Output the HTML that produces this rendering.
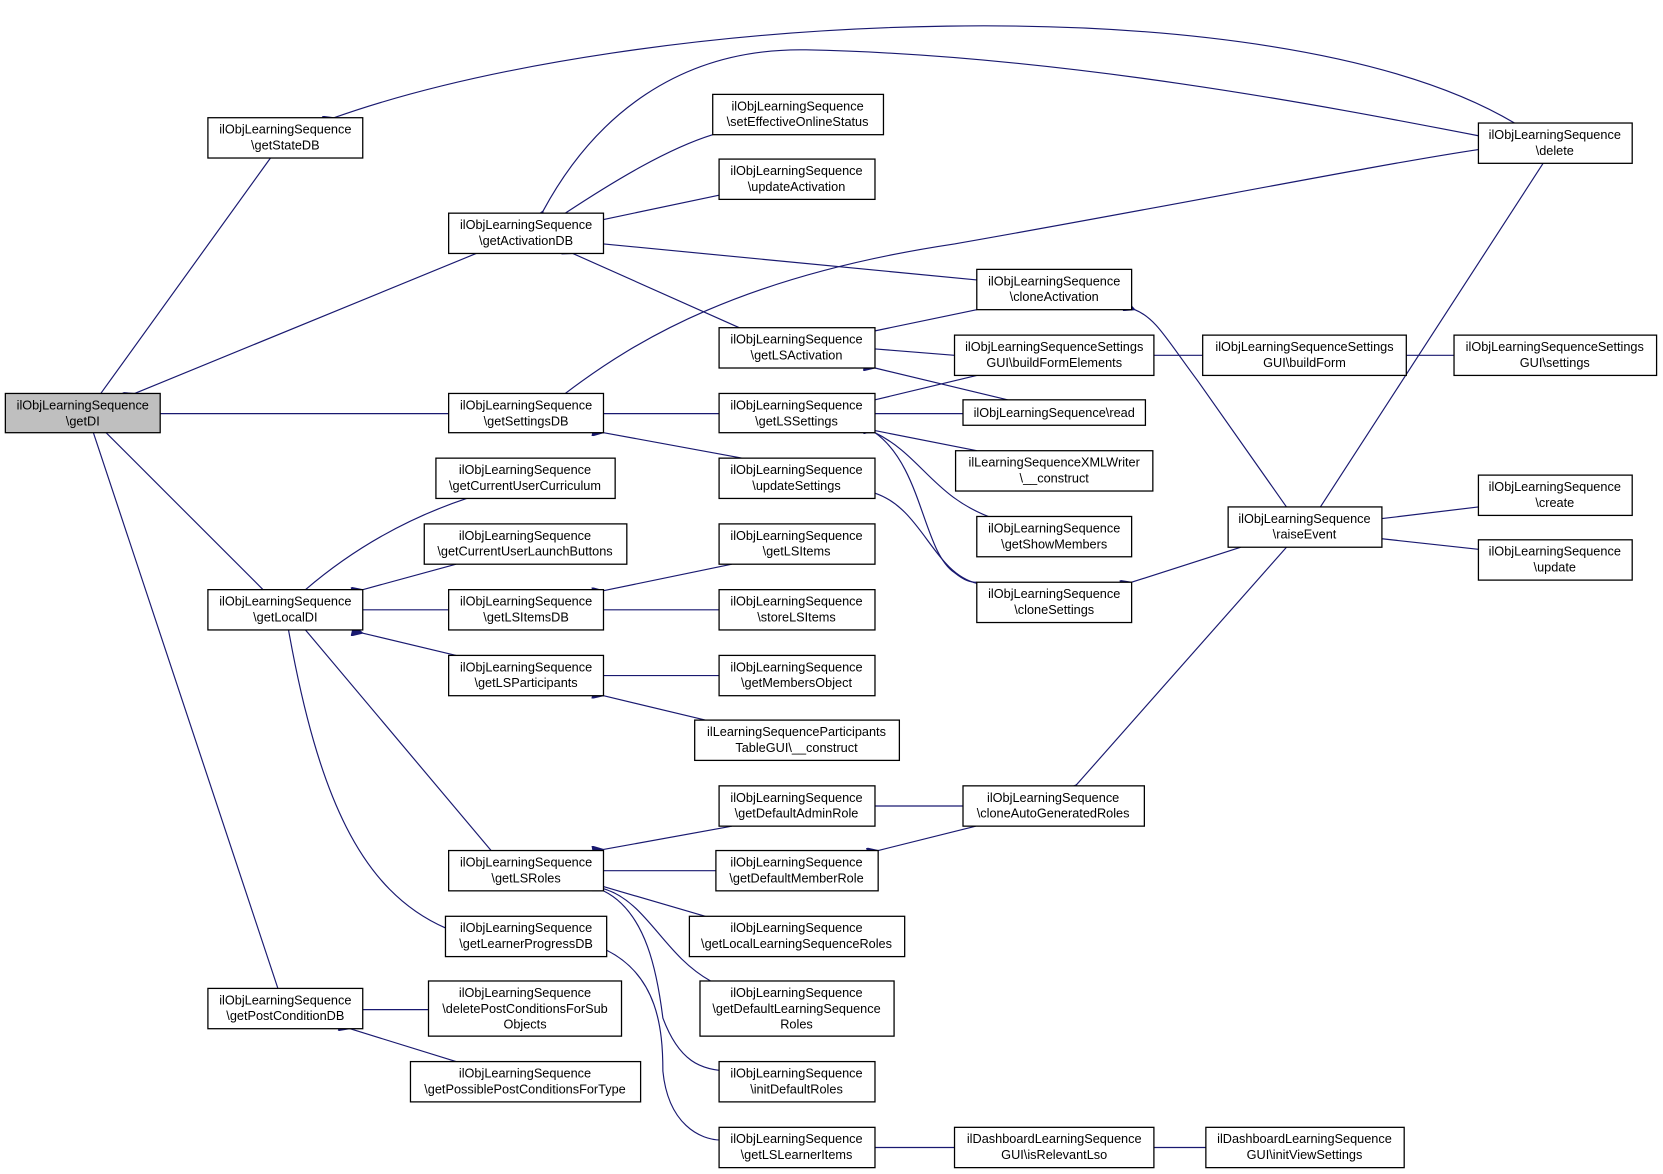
<!DOCTYPE html>
<html><head><meta charset="utf-8"><style>
html,body{margin:0;padding:0;background:#fff;width:1663px;height:1174px;overflow:hidden}
text{font-family:"Liberation Sans",sans-serif;font-size:12px;fill:#000}
.e{fill:none;stroke:#191970;stroke-width:1.1;marker-start:url(#a)}
.n{fill:#fff;stroke:#000;stroke-width:1.2}
</style></head><body>
<svg width="1663" height="1174" viewBox="0 0 1568 1107" xmlns="http://www.w3.org/2000/svg">
<defs><marker id="a" viewBox="0 0 10 10" refX="0" refY="5" markerWidth="12" markerHeight="10" markerUnits="userSpaceOnUse" orient="auto-start-reverse"><path d="M10,0 L0,5 L10,10 z" fill="#191970" stroke="#191970"/></marker></defs>
<g>
<path class="e" d="M95,371 L255,149"/>
<path class="e" d="M127,371 L449,239"/>
<path class="e" d="M151,390 L423,390"/>
<path class="e" d="M100,408 L248,556"/>
<path class="e" d="M88,408 L262,932"/>
<path class="e" d="M315,111 C600,10 1200,-20 1428,116"/>
<path class="e" d="M512,199 C560,110 640,45 760,47 C1000,52 1250,100 1394,128"/>
<path class="e" d="M533,201 C580,170 630,140 672,127"/>
<path class="e" d="M569,207 L678,184"/>
<path class="e" d="M569,230 L921,264"/>
<path class="e" d="M540,239 L697,309"/>
<path class="e" d="M533,371 C600,320 700,260 900,230 C1100,195 1300,155 1394,141"/>
<path class="e" d="M569,390 L678,390"/>
<path class="e" d="M569,408 L700,432"/>
<path class="e" d="M288,556 C330,520 380,490 440,470"/>
<path class="e" d="M342,556 L430,532"/>
<path class="e" d="M342,575 L423,575"/>
<path class="e" d="M342,597 L430,618"/>
<path class="e" d="M288,594 L463,802"/>
<path class="e" d="M272,594 C300,750 340,840 420,875"/>
<path class="e" d="M342,952 L404,952"/>
<path class="e" d="M330,970 L430,1001"/>
<path class="e" d="M569,557 L690,532"/>
<path class="e" d="M569,575 L678,575"/>
<path class="e" d="M569,637 L678,637"/>
<path class="e" d="M569,656 L665,679"/>
<path class="e" d="M569,801 L690,779"/>
<path class="e" d="M569,821 L675,821"/>
<path class="e" d="M569,836 L665,864"/>
<path class="e" d="M569,838 C610,850 625,900 670,925"/>
<path class="e" d="M569,840 C610,860 620,920 625,960 C640,1000 660,1010 690,1010"/>
<path class="e" d="M572,896 C620,920 625,970 625,1010 C630,1060 660,1075 680,1075"/>
<path class="e" d="M825,312 L921,292"/>
<path class="e" d="M825,329 L900,335"/>
<path class="e" d="M825,347 L950,377"/>
<path class="e" d="M825,377 L921,354"/>
<path class="e" d="M825,390 L908,390"/>
<path class="e" d="M825,406 L921,425"/>
<path class="e" d="M825,408 C870,430 880,470 940,490"/>
<path class="e" d="M825,408 C870,440 870,520 900,540 C910,548 915,549 921,549"/>
<path class="e" d="M825,465 C870,480 880,540 921,550"/>
<path class="e" d="M1070,292 C1090,300 1100,320 1130,360 L1213,478"/>
<path class="e" d="M1088,335 L1134,335"/>
<path class="e" d="M1326,335 L1371,335"/>
<path class="e" d="M1067,549 L1170,516"/>
<path class="e" d="M1303,489 L1394,478"/>
<path class="e" d="M1303,508 L1394,518"/>
<path class="e" d="M1015,740 L1213,516"/>
<path class="e" d="M1245,478 L1455,154"/>
<path class="e" d="M825,760 L908,760"/>
<path class="e" d="M828,802 L920,779"/>
<path class="e" d="M825,1082 L900,1082"/>
<path class="e" d="M1088,1082 L1137,1082"/>
</g>
<g>
<rect x="5" y="371" width="146" height="37" fill="#bfbfbf" stroke="#000" stroke-width="1.2"/>
<text x="78" y="386" text-anchor="middle">ilObjLearningSequence</text><text x="78" y="401" text-anchor="middle">\getDI</text>
</g>
<g text-anchor="middle">
<rect class="n" x="196" y="111" width="146" height="38"/><text x="269" y="126">ilObjLearningSequence</text><text x="269" y="141">\getStateDB</text>
<rect class="n" x="423" y="201" width="146" height="38"/><text x="496" y="216">ilObjLearningSequence</text><text x="496" y="231">\getActivationDB</text>
<rect class="n" x="423" y="371" width="146" height="37"/><text x="496" y="386">ilObjLearningSequence</text><text x="496" y="401">\getSettingsDB</text>
<rect class="n" x="411" y="432" width="169" height="38"/><text x="495" y="447">ilObjLearningSequence</text><text x="495" y="462">\getCurrentUserCurriculum</text>
<rect class="n" x="400" y="494" width="191" height="38"/><text x="495" y="509">ilObjLearningSequence</text><text x="495" y="524">\getCurrentUserLaunchButtons</text>
<rect class="n" x="196" y="556" width="146" height="38"/><text x="269" y="571">ilObjLearningSequence</text><text x="269" y="586">\getLocalDI</text>
<rect class="n" x="423" y="556" width="146" height="38"/><text x="496" y="571">ilObjLearningSequence</text><text x="496" y="586">\getLSItemsDB</text>
<rect class="n" x="423" y="618" width="146" height="38"/><text x="496" y="633">ilObjLearningSequence</text><text x="496" y="648">\getLSParticipants</text>
<rect class="n" x="423" y="802" width="146" height="38"/><text x="496" y="817">ilObjLearningSequence</text><text x="496" y="832">\getLSRoles</text>
<rect class="n" x="420" y="864" width="152" height="38"/><text x="496" y="879">ilObjLearningSequence</text><text x="496" y="894">\getLearnerProgressDB</text>
<rect class="n" x="196" y="932" width="146" height="38"/><text x="269" y="947">ilObjLearningSequence</text><text x="269" y="962">\getPostConditionDB</text>
<rect class="n" x="404" y="925" width="182" height="52"/><text x="495" y="940">ilObjLearningSequence</text><text x="495" y="955">\deletePostConditionsForSub</text><text x="495" y="970">Objects</text>
<rect class="n" x="387" y="1001" width="217" height="38"/><text x="495" y="1016">ilObjLearningSequence</text><text x="495" y="1031">\getPossiblePostConditionsForType</text>
<rect class="n" x="672" y="89" width="161" height="38"/><text x="752" y="104">ilObjLearningSequence</text><text x="752" y="119">\setEffectiveOnlineStatus</text>
<rect class="n" x="678" y="150" width="147" height="38"/><text x="751" y="165">ilObjLearningSequence</text><text x="751" y="180">\updateActivation</text>
<rect class="n" x="678" y="309" width="147" height="38"/><text x="751" y="324">ilObjLearningSequence</text><text x="751" y="339">\getLSActivation</text>
<rect class="n" x="678" y="371" width="147" height="37"/><text x="751" y="386">ilObjLearningSequence</text><text x="751" y="401">\getLSSettings</text>
<rect class="n" x="678" y="432" width="147" height="38"/><text x="751" y="447">ilObjLearningSequence</text><text x="751" y="462">\updateSettings</text>
<rect class="n" x="678" y="494" width="147" height="38"/><text x="751" y="509">ilObjLearningSequence</text><text x="751" y="524">\getLSItems</text>
<rect class="n" x="678" y="556" width="147" height="38"/><text x="751" y="571">ilObjLearningSequence</text><text x="751" y="586">\storeLSItems</text>
<rect class="n" x="678" y="618" width="147" height="38"/><text x="751" y="633">ilObjLearningSequence</text><text x="751" y="648">\getMembersObject</text>
<rect class="n" x="655" y="679" width="193" height="38"/><text x="751" y="694">ilLearningSequenceParticipants</text><text x="751" y="709">TableGUI\__construct</text>
<rect class="n" x="678" y="741" width="147" height="38"/><text x="751" y="756">ilObjLearningSequence</text><text x="751" y="771">\getDefaultAdminRole</text>
<rect class="n" x="675" y="802" width="153" height="38"/><text x="751" y="817">ilObjLearningSequence</text><text x="751" y="832">\getDefaultMemberRole</text>
<rect class="n" x="650" y="864" width="203" height="38"/><text x="751" y="879">ilObjLearningSequence</text><text x="751" y="894">\getLocalLearningSequenceRoles</text>
<rect class="n" x="660" y="925" width="183" height="52"/><text x="751" y="940">ilObjLearningSequence</text><text x="751" y="955">\getDefaultLearningSequence</text><text x="751" y="970">Roles</text>
<rect class="n" x="678" y="1001" width="147" height="38"/><text x="751" y="1016">ilObjLearningSequence</text><text x="751" y="1031">\initDefaultRoles</text>
<rect class="n" x="678" y="1063" width="147" height="38"/><text x="751" y="1078">ilObjLearningSequence</text><text x="751" y="1093">\getLSLearnerItems</text>
<rect class="n" x="921" y="254" width="146" height="38"/><text x="994" y="269">ilObjLearningSequence</text><text x="994" y="284">\cloneActivation</text>
<rect class="n" x="900" y="316" width="188" height="38"/><text x="994" y="331">ilObjLearningSequenceSettings</text><text x="994" y="346">GUI\buildFormElements</text>
<rect class="n" x="908" y="377" width="172" height="24"/><text x="994" y="393">ilObjLearningSequence\read</text>
<rect class="n" x="901" y="425" width="186" height="38"/><text x="994" y="440">ilLearningSequenceXMLWriter</text><text x="994" y="455">\__construct</text>
<rect class="n" x="921" y="487" width="146" height="38"/><text x="994" y="502">ilObjLearningSequence</text><text x="994" y="517">\getShowMembers</text>
<rect class="n" x="921" y="549" width="146" height="38"/><text x="994" y="564">ilObjLearningSequence</text><text x="994" y="579">\cloneSettings</text>
<rect class="n" x="908" y="741" width="171" height="38"/><text x="993" y="756">ilObjLearningSequence</text><text x="993" y="771">\cloneAutoGeneratedRoles</text>
<rect class="n" x="900" y="1063" width="188" height="38"/><text x="994" y="1078">ilDashboardLearningSequence</text><text x="994" y="1093">GUI\isRelevantLso</text>
<rect class="n" x="1134" y="316" width="192" height="38"/><text x="1230" y="331">ilObjLearningSequenceSettings</text><text x="1230" y="346">GUI\buildForm</text>
<rect class="n" x="1158" y="478" width="145" height="38"/><text x="1230" y="493">ilObjLearningSequence</text><text x="1230" y="508">\raiseEvent</text>
<rect class="n" x="1137" y="1063" width="187" height="38"/><text x="1230" y="1078">ilDashboardLearningSequence</text><text x="1230" y="1093">GUI\initViewSettings</text>
<rect class="n" x="1394" y="116" width="145" height="38"/><text x="1466" y="131">ilObjLearningSequence</text><text x="1466" y="146">\delete</text>
<rect class="n" x="1371" y="316" width="191" height="38"/><text x="1466" y="331">ilObjLearningSequenceSettings</text><text x="1466" y="346">GUI\settings</text>
<rect class="n" x="1394" y="448" width="145" height="38"/><text x="1466" y="463">ilObjLearningSequence</text><text x="1466" y="478">\create</text>
<rect class="n" x="1394" y="509" width="145" height="38"/><text x="1466" y="524">ilObjLearningSequence</text><text x="1466" y="539">\update</text>
</g>
</svg>
</body></html>
